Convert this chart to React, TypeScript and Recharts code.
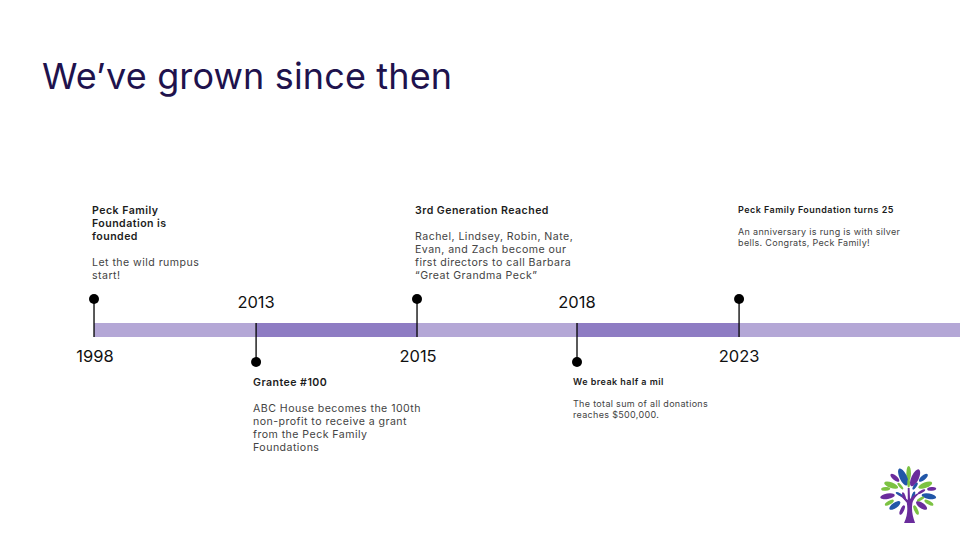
import { ComposedChart, Line, XAxis, YAxis } from "recharts";

// milestones, in order along the bar
const years = ["1998", "2013", "2015", "2018", "2023"];
const steps = [0, 1.005, 2.003, 2.995, 4];
const tipHeights = [31, -32, 31, -32, 31];
const bandEnd = 5.37;

const headlines = [
  ["Peck Family", "Foundation is", "founded"],
  ["Grantee #100"],
  ["3rd Generation Reached"],
  ["We break half a mil"],
  ["Peck Family Foundation turns 25"],
];
const bodies = [
  ["Let the wild rumpus", "start!"],
  ["ABC House becomes the 100th", "non-profit to receive a grant", "from the Peck Family", "Foundations"],
  ["Rachel, Lindsey, Robin, Nate,", "Evan, and Zach become our", "first directors to call Barbara", "“Great Grandma Peck”"],
  ["The total sum of all donations", "reaches $500,000."],
  ["An anniversary is rung is with silver", "bells. Congrats, Peck Family!"],
];

const FONT = "Inter, 'Open Sans', sans-serif";
const LIGHT = "#b4a7d6";
const DARK = "#8e7cc3";

const bandStops = [...steps, bandEnd];
const tips = steps.map((x, i) => ({ x, y: tipHeights[i] }));

// pixel nudges for the text blocks, the slide is not quite regular
const textNudge = [-2, -3, -2, -4, -1];
const yearNudge = [1, 0, 1, 0, 0];
const smallText = [false, false, false, true, true];

const noDot = () => <g />;

function TipDot(props: any) {
  const { cx, cy, index } = props;
  const up = tipHeights[index] > 0;
  const small = smallText[index];
  const lh = small ? 11 : 13;
  const size = small ? 9 : 10.6;
  const left = cx + textNudge[index];
  let y = cy + (up ? -85 : 24) - (small ? 1 : 0);
  const head = headlines[index].map((t, i) => {
    const el = (
      <text key={"h" + i} x={left} y={y} fontFamily={FONT} fontSize={size} fontWeight={600} letterSpacing={0.45} fill="#1c1c1c">
        {t}
      </text>
    );
    y += lh;
    return el;
  });
  y += lh;
  const body = bodies[index].map((t, i) => {
    const el = (
      <text key={"b" + i} x={left} y={y} fontFamily={FONT} fontSize={size} letterSpacing={small ? 0.32 : 0.45} fill="#434343">
        {t}
      </text>
    );
    y += lh;
    return el;
  });
  return (
    <g key={index}>
      <circle cx={cx} cy={cy} r={5} fill="#000" />
      {head}
      {body}
    </g>
  );
}

function YearLabel(props: any) {
  const { cx, cy, index } = props;
  const up = tipHeights[index] < 0;
  return (
    <text
      key={index}
      x={cx + yearNudge[index]}
      y={cy + (up ? -22 : 32)}
      textAnchor="middle"
      fontFamily={FONT}
      fontSize={16.5}
      fill="#111"
    >
      {years[index]}
    </text>
  );
}

const leaves: [number, number, number, number, number, string][] = [
  [48, 22, 2.5, 8, 0, "#7cc242"], [42, 26, 4, 10, -25, "#2156a8"], [55, 27, 4, 10, 25, "#6a2c9c"],
  [33, 27, 2.5, 6, -50, "#6a2c9c"], [64, 27, 2.5, 6, 50, "#2156a8"], [29, 35, 3, 8, -70, "#7cc242"],
  [66, 35, 3, 8, 70, "#7cc242"], [23, 39, 2, 5, 85, "#7cc242"], [73, 39, 2, 5, 85, "#6a2c9c"],
  [25, 47, 3, 8, 80, "#6a2c9c"], [70, 47, 3, 8, 100, "#2156a8"], [27, 54, 2, 5.5, 60, "#7cc242"],
  [70, 54, 2, 5.5, -60, "#7cc242"], [33, 57, 3, 7, 55, "#2156a8"], [62, 57, 3, 7, -55, "#6a2c9c"],
  [41, 62, 2, 5.5, 25, "#6a2c9c"], [56, 62, 2, 5.5, -25, "#7cc242"], [39, 36, 1.5, 4.5, -40, "#7cc242"],
  [55, 36, 1.5, 4.5, 35, "#2156a8"], [48, 33, 1.5, 4.5, 0, "#7cc242"], [38, 45, 1.5, 4.5, -60, "#2156a8"],
  [62, 42, 1.5, 4.5, 60, "#6a2c9c"], [53, 46, 1.5, 4.5, 20, "#2156a8"], [43, 47, 1.5, 4.5, -20, "#6a2c9c"],
  [61, 50, 1.5, 4.5, 60, "#7cc242"],
];

function Logo() {
  return (
    <svg
      width={100}
      height={90}
      viewBox="0 0 100 90"
      style={{ position: "absolute", left: 860, top: 450 }}
    >
      <g transform="translate(4.5 3) scale(0.92)">
        {leaves.map(([x, y, rx, ry, r, c], i) => (
          <ellipse key={i} cx={x} cy={y} rx={rx} ry={ry} fill={c} transform={`rotate(${r} ${x} ${y})`} />
        ))}
        <path
          d="M43 76 C47 68 47 60 46 54 C43 50 40 47 36 45 C41 46 45 49 47 51 L47 38 L49 38 L49.5 50 C52 47 56 44 61 43 C57 46 53 50 52 55 C51 62 52 68 55 76 Z"
          fill="#6a2c9c"
        />
      </g>
    </svg>
  );
}

export default function App() {
  return (
    <div style={{ position: "absolute", left: 0, top: 0, width: 960, height: 540, background: "#fff", overflow: "hidden" }}>
      <div
        style={{
          position: "absolute",
          left: 42,
          top: 53,
          fontFamily: FONT,
          fontSize: 36,
          lineHeight: "46px",
          letterSpacing: 0.14,
          color: "#20124d",
          whiteSpace: "nowrap",
        }}
      >
        We’ve grown since then
      </div>
      <ComposedChart width={960} height={540} margin={{ top: 0, right: 0, bottom: 0, left: 0 }}>
        <XAxis type="number" dataKey="x" domain={[-0.583, 5.37]} hide allowDataOverflow />
        <YAxis type="number" domain={[-210, 330]} hide allowDataOverflow />
        {bandStops.slice(0, -1).map((from, i) => (
          <Line
            key={"band" + i}
            data={[
              { x: from, y: 0 },
              { x: bandStops[i + 1], y: 0 },
            ]}
            dataKey="y"
            stroke={i % 2 ? DARK : LIGHT}
            strokeWidth={14}
            dot={noDot}
            activeDot={false}
            isAnimationActive={false}
          />
        ))}
        {tips.map((t) => (
          <Line
            key={"stem" + t.x}
            data={[
              { x: t.x, y: t.y > 0 ? -7 : 7 },
              { x: t.x, y: t.y },
            ]}
            dataKey="y"
            stroke="#000"
            strokeWidth={1.3}
            dot={noDot}
            activeDot={false}
            isAnimationActive={false}
          />
        ))}
        <Line data={tips} dataKey="y" stroke="none" dot={TipDot} activeDot={false} isAnimationActive={false} />
        <Line data={tips.map((t) => ({ x: t.x, y: 0 }))} dataKey="y" stroke="none" dot={YearLabel} activeDot={false} isAnimationActive={false} />
      </ComposedChart>
      <Logo />
    </div>
  );
}
